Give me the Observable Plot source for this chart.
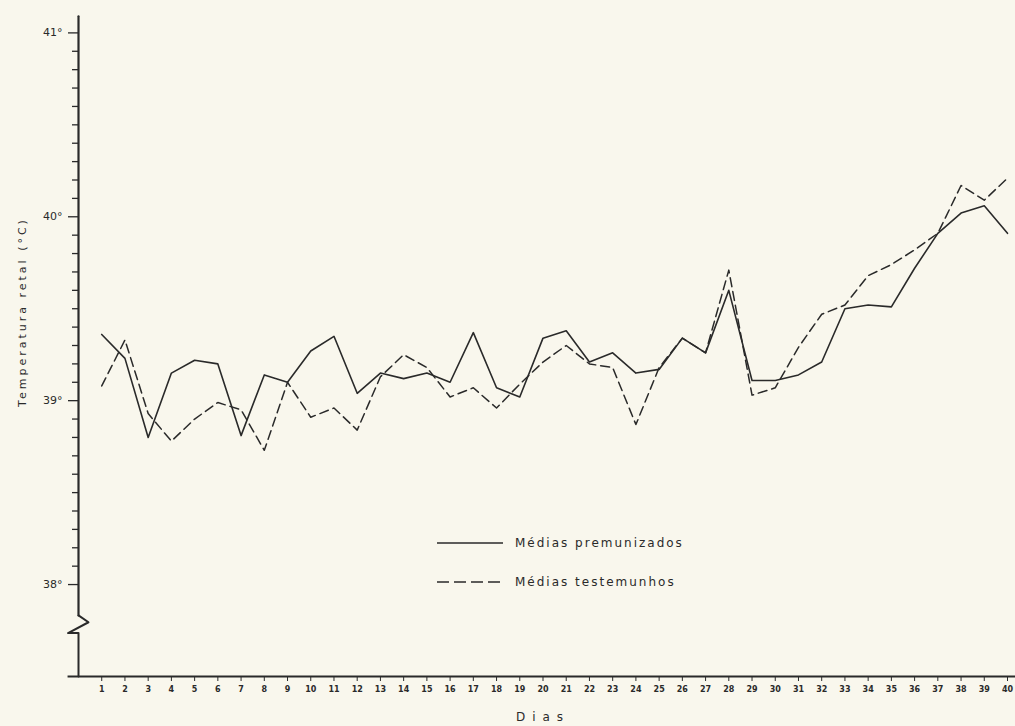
<!DOCTYPE html>
<html><head><meta charset="utf-8">
<script src="https://cdn.jsdelivr.net/npm/d3@7"></script>
<script src="https://cdn.jsdelivr.net/npm/@observablehq/plot@0.6"></script>
<style>
html,body{margin:0;padding:0;background:#f9f7ed;}
#wrap{position:relative;width:1015px;height:726px;overflow:hidden;font-family:"DejaVu Sans",sans-serif;color:#2a2a2a;}
#wrap svg{position:absolute;left:0;top:0;background:transparent;}
.leg{position:absolute;left:437px;font-size:12px;letter-spacing:2px;display:flex;align-items:center;height:20px;}
.leg svg{position:static !important;margin-right:12px;}
</style></head><body><div id="wrap"></div>
<script>
const days = [1,2,3,4,5,6,7,8,9,10,11,12,13,14,15,16,17,18,19,20,21,22,23,24,25,26,27,28,29,30,31,32,33,34,35,36,37,38,39,40];
const premunizados = [39.36,39.23,38.80,39.15,39.22,39.20,38.81,39.14,39.10,39.27,39.35,39.04,39.15,39.12,39.15,39.10,39.37,39.07,39.02,39.34,39.38,39.21,39.26,39.15,39.17,39.34,39.26,39.60,39.11,39.11,39.14,39.21,39.50,39.52,39.51,39.72,39.91,40.02,40.06,39.91];
const testemunhos = [39.08,39.33,38.93,38.78,38.90,38.99,38.95,38.73,39.10,38.91,38.96,38.84,39.13,39.25,39.18,39.02,39.07,38.96,39.09,39.21,39.30,39.20,39.18,38.87,39.18,39.34,39.26,39.71,39.03,39.07,39.29,39.47,39.52,39.68,39.74,39.82,39.91,40.17,40.09,40.21];
const yMajorTicks = [38,39,40,41];
const yMinorTicks = [38.1,38.2,38.3,38.4,38.5,38.6,38.7,38.8,38.9,39.1,39.2,39.3,39.4,39.5,39.6,39.7,39.8,39.9,40.1,40.2,40.3,40.4,40.5,40.6,40.7,40.8,40.9];
const seriesNames = ["Médias premunizados","Médias testemunhos"];
const xLabel = "Dias";
const yLabel = "Temperatura retal (°C)";

const ink = "#2a2a2a";
const solid = days.map((d,i)=>({day:d, t:premunizados[i]}));
const dashed = days.map((d,i)=>({day:d, t:testemunhos[i]}));
// axis with break (decoration in data units)
const yAxisUpper = [{x:0,y:41.09},{x:0,y:37.832}];
const yBreak = [{x:0,y:37.832},{x:0.43,y:37.795},{x:-0.45,y:37.736},{x:0,y:37.736},{x:0,y:37.5}];

const chart = Plot.plot({
  width:1015, height:726,
  marginLeft:78, marginRight:8, marginTop:14, marginBottom:50,
  style:{background:"transparent", fontFamily:"DejaVu Sans, sans-serif", color:ink},
  x:{domain:[0,40]},
  y:{domain:[37.5,41.1]},
  marks:[
    Plot.axisY(yMinorTicks,{tickSize:6, tickFormat:()=>"", stroke:ink, strokeWidth:1.3}),
    Plot.axisY(yMajorTicks,{tickSize:10, tickPadding:6, tickFormat:d=>d+"°", fontSize:11, stroke:ink, strokeWidth:1.3, fill:ink}),
    Plot.axisX(days,{tickSize:5, tickPadding:5, fontSize:8, fontWeight:"bold", stroke:ink, fill:ink, label:null}),
    Plot.line(yAxisUpper,{x:"x",y:"y",stroke:ink,strokeWidth:2.2}),
    Plot.line(yBreak,{x:"x",y:"y",stroke:ink,strokeWidth:2,clip:false}),
    Plot.ruleY([37.5],{x1:-0.45,x2:40.4,stroke:ink,strokeWidth:1.8,clip:false}),
    Plot.line(dashed,{x:"day",y:"t",stroke:ink,strokeWidth:1.5,strokeDasharray:"9,5"}),
    Plot.line(solid,{x:"day",y:"t",stroke:ink,strokeWidth:1.6}),
    Plot.text([xLabel],{x:20,y:37.5,dy:44,fontSize:12,fill:ink,frameAnchor:"bottom"})
  ]
});
const wrap = document.getElementById("wrap");
wrap.appendChild(chart);
d3.select(chart).selectAll("text").filter(function(){return this.textContent==="";}).remove();
d3.select(chart).selectAll("text").filter(function(){return this.textContent===xLabel;}).attr("letter-spacing","7px");
// y label
d3.select(chart).append("text")
  .attr("transform","translate(26,312) rotate(-90)")
  .attr("text-anchor","middle").attr("font-size",11).attr("letter-spacing","3px")
  .attr("fill",ink).text(yLabel);
// legend overlay
function legItem(name, dash, top){
  const div=document.createElement("div");div.className="leg";div.style.top=top+"px";
  div.innerHTML=`<svg width="66" height="6"><line x1="0" x2="66" y1="3" y2="3" stroke="${ink}" stroke-width="1.6" ${dash?'stroke-dasharray="12,5"':''}/></svg><span>${name}</span>`;
  wrap.appendChild(div);
}
legItem(seriesNames[0], false, 533);
legItem(seriesNames[1], true, 572);
</script></body></html>
